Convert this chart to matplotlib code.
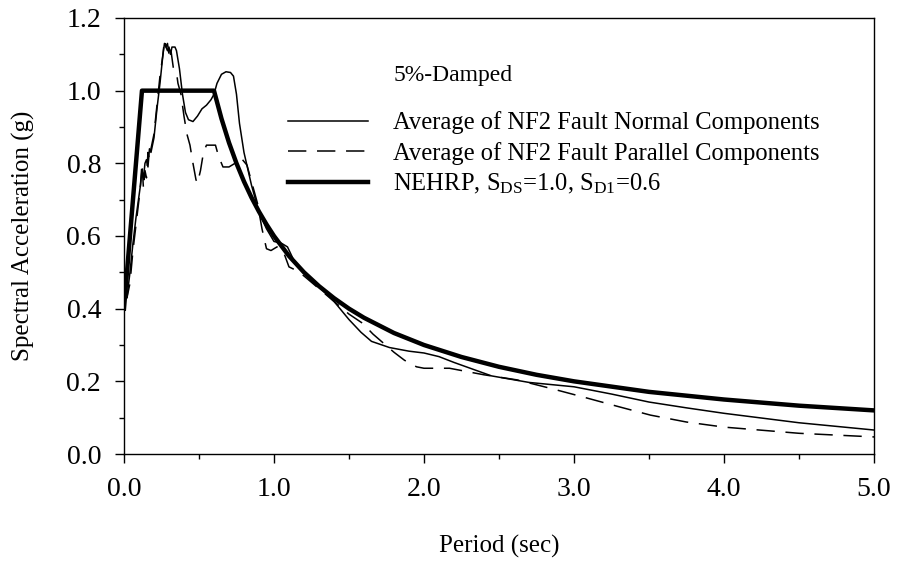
import matplotlib
matplotlib.use("Agg")
import matplotlib.pyplot as plt
from matplotlib.ticker import MultipleLocator

plt.rcParams['font.family'] = ['Liberation Serif', 'DejaVu Serif']
plt.rcParams['mathtext.fontset'] = 'custom'
plt.rcParams['mathtext.rm'] = 'Liberation Serif'
plt.rcParams['mathtext.it'] = 'Liberation Serif:italic'

# Average of fault normal components
normal_T = [0.00, 0.02, 0.04, 0.06, 0.08, 0.10, 0.11, 0.12, 0.13, 0.14, 0.15, 0.16, 0.17, 0.18,
            0.20, 0.22, 0.24, 0.26, 0.27, 0.28, 0.29, 0.30, 0.31, 0.32, 0.34, 0.35, 0.37, 0.39,
            0.41, 0.43, 0.46, 0.49, 0.52, 0.55, 0.58, 0.60, 0.62, 0.65, 0.68, 0.71, 0.73, 0.75,
            0.77, 0.80, 0.85, 0.90, 0.95, 1.00, 1.05, 1.09, 1.13, 1.20, 1.30, 1.40, 1.50, 1.58,
            1.65, 1.77, 1.90, 2.00, 2.10, 2.20, 2.45, 2.70, 3.00, 3.25, 3.50, 3.75, 4.00, 4.50, 5.00]
normal_sa = [0.44, 0.43, 0.50, 0.58, 0.65, 0.71, 0.74, 0.78, 0.76, 0.80, 0.81, 0.79, 0.84, 0.83,
             0.87, 0.95, 1.02, 1.10, 1.13, 1.12, 1.11, 1.12, 1.10, 1.12, 1.12, 1.11, 1.06, 0.99,
             0.94, 0.92, 0.915, 0.93, 0.95, 0.96, 0.975, 0.99, 1.02, 1.045, 1.052, 1.05, 1.04, 0.99,
             0.91, 0.83, 0.74, 0.665, 0.62, 0.585, 0.58, 0.57, 0.535, 0.50, 0.46, 0.42, 0.37, 0.335,
             0.31, 0.293, 0.283, 0.278, 0.268, 0.252, 0.215, 0.197, 0.185, 0.165, 0.143, 0.127, 0.112, 0.086, 0.066]

# Average of fault parallel components
parallel_T = [0.00, 0.02, 0.04, 0.06, 0.08, 0.10, 0.11, 0.12, 0.13, 0.14, 0.15, 0.16, 0.17, 0.18,
              0.20, 0.22, 0.24, 0.26, 0.27, 0.28, 0.29, 0.30, 0.31, 0.32, 0.33, 0.35, 0.36, 0.38,
              0.40, 0.42, 0.44, 0.46, 0.48, 0.49, 0.51, 0.53, 0.55, 0.58, 0.61, 0.63, 0.66, 0.70,
              0.74, 0.78, 0.82, 0.86, 0.89, 0.92, 0.95, 0.98, 1.02, 1.06, 1.10, 1.15, 1.20, 1.30,
              1.40, 1.50, 1.59, 1.66, 1.73, 1.80, 1.87, 1.95, 2.00, 2.17, 2.40, 2.62, 2.85, 3.06,
              3.30, 3.51, 3.75, 4.00, 4.50, 5.00]
parallel_sa = [0.44, 0.43, 0.47, 0.56, 0.63, 0.70, 0.74, 0.80, 0.73, 0.78, 0.76, 0.83, 0.81, 0.84,
               0.88, 0.96, 1.04, 1.10, 1.14, 1.12, 1.13, 1.10, 1.12, 1.09, 1.06, 1.05, 1.02, 0.99,
               0.93, 0.88, 0.85, 0.80, 0.755, 0.745, 0.78, 0.83, 0.85, 0.85, 0.85, 0.82, 0.79, 0.79,
               0.80, 0.815, 0.795, 0.735, 0.69, 0.62, 0.565, 0.56, 0.57, 0.56, 0.515, 0.505, 0.49, 0.455,
               0.42, 0.385, 0.36, 0.33, 0.305, 0.28, 0.258, 0.24, 0.236, 0.236, 0.218, 0.204, 0.18, 0.157,
               0.13, 0.107, 0.088, 0.074, 0.057, 0.047]

# NEHRP design spectrum, SDS=1.0, SD1=0.6
nehrp_T = [0.0, 0.12, 0.6, 0.65, 0.7, 0.75, 0.8, 0.85, 0.9, 0.95, 1.0, 1.1, 1.2, 1.3, 1.4, 1.5,
           1.6, 1.8, 2.0, 2.25, 2.5, 2.75, 3.0, 3.5, 4.0, 4.5, 5.0]
nehrp_sa = [0.4, 1.0, 1.0, 0.923, 0.857, 0.8, 0.75, 0.706, 0.667, 0.632, 0.6, 0.545, 0.5, 0.462,
            0.429, 0.4, 0.375, 0.333, 0.3, 0.267, 0.24, 0.218, 0.2, 0.171, 0.15, 0.133, 0.12]

labels = ['Average of NF2 Fault Normal Components',
          'Average of NF2 Fault Parallel Components',
          r'NEHRP, S$_{\mathrm{DS}}$=1.0, S$_{\mathrm{D1}}$=0.6']

fig = plt.figure(figsize=(8.97, 5.69), dpi=100)
ax = fig.add_axes([0.1382, 0.2021, 0.8362, 0.7663])

ax.plot(normal_T, normal_sa, color='black', lw=1.1, label=labels[0])
ax.plot(parallel_T, parallel_sa, color='black', lw=1.1, dashes=(12, 7), label=labels[1])
ax.plot(nehrp_T, nehrp_sa, color='black', lw=3.2, label=labels[2])

ax.set_xlim(0, 5)
ax.set_ylim(0, 1.2)
ax.xaxis.set_major_locator(MultipleLocator(1.0))
ax.xaxis.set_minor_locator(MultipleLocator(0.5))
ax.yaxis.set_major_locator(MultipleLocator(0.2))
ax.yaxis.set_minor_locator(MultipleLocator(0.1))
ax.xaxis.set_major_formatter(plt.FormatStrFormatter('%.1f'))
ax.yaxis.set_major_formatter(plt.FormatStrFormatter('%.1f'))
ax.tick_params(which='major', direction='out', length=6.5, width=1, labelsize=20, pad=10)
ax.tick_params(which='minor', direction='out', length=3.5, width=1)
ax.tick_params(top=False, right=False, which='both')
for s in ax.spines.values():
    s.set_linewidth(1)

ax.set_xlabel('Period (sec)', fontsize=18)
ax.set_ylabel('Spectral Acceleration (g)', fontsize=18)
ax.xaxis.set_label_coords(0.5, -0.186)
ax.yaxis.set_label_coords(-0.118, 0.5)

ax.text(0.3592, 0.867, '5%-Damped', transform=ax.transAxes, fontsize=17, va='center', ha='left')
ax.legend(loc='upper left', bbox_to_anchor=(0.2187, 0.7856), frameon=False, fontsize=17.7,
          handlelength=3.25, handletextpad=1.02, labelspacing=0.3, borderpad=0, borderaxespad=0)

plt.savefig('out.png', dpi=100)
plt.close(fig)
